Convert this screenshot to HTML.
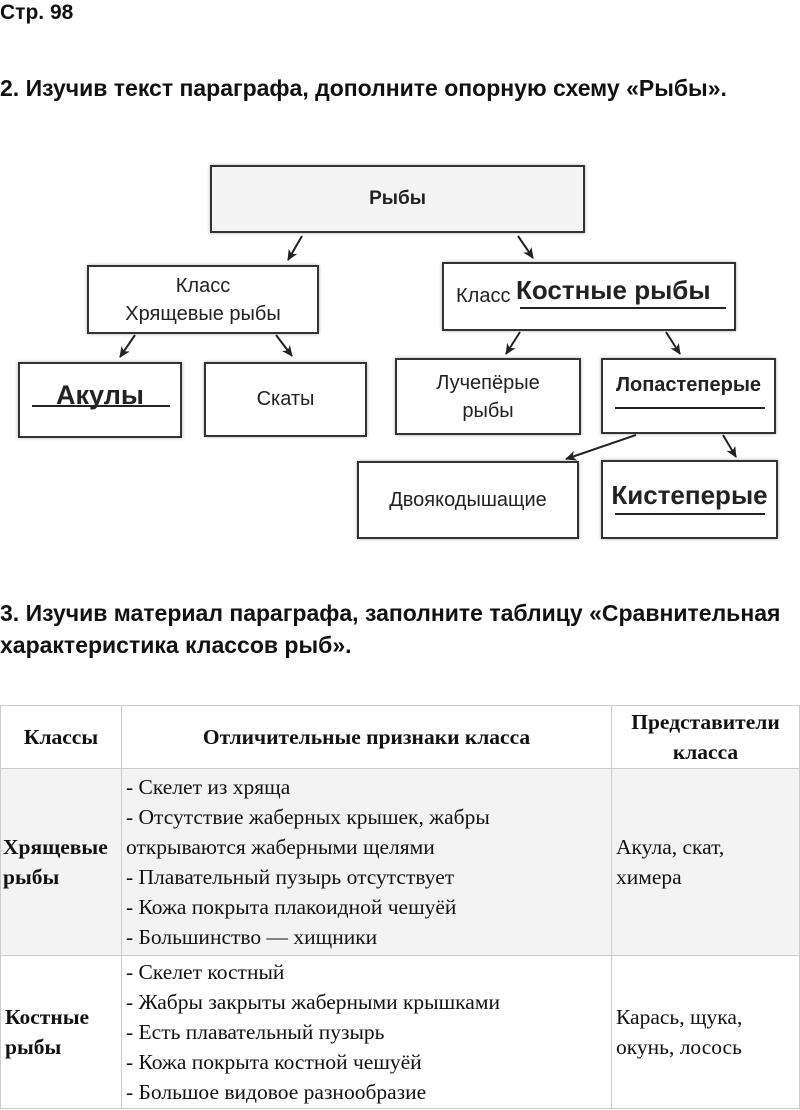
<!DOCTYPE html>
<html><head><meta charset="utf-8"><style>
body{margin:0;width:800px;height:1110px;background:#fff;position:relative;overflow:hidden;font-family:"Liberation Sans",sans-serif}
.t{position:absolute;left:0;font-weight:bold;font-size:23px;color:#111;white-space:nowrap}
.b{position:absolute;border:2px solid #333;background:#fff;box-sizing:border-box;display:flex;align-items:center;justify-content:center;text-align:center;font-size:20px;color:#222;box-shadow:0 0 3px #aaa}
.u{position:absolute;height:2px;background:#222}
table{position:absolute;left:0;top:705px;width:800px;border-collapse:collapse;font-family:"Liberation Serif",serif;font-size:21.5px;color:#111}
td{border:1px solid #ccc;vertical-align:middle;padding:0 4px;line-height:30px;white-space:nowrap}
</style></head><body>
<div class="t" style="top:1px;font-size:21px">Стр. 98</div>
<div class="t" style="top:75px">2. Изучив текст параграфа, дополните опорную схему «Рыбы».</div>
<div class="b" style="left:210px;top:165px;width:375px;height:68px;background:#f4f4f4;font-weight:bold;font-size:19px">Рыбы</div>
<div class="b" style="left:87px;top:265px;width:232px;height:69px;line-height:28px">Класс<br>Хрящевые рыбы</div>
<div class="b" style="left:442px;top:262px;width:294px;height:69px;justify-content:flex-start;padding-left:12px">Класс&nbsp;<span style="font-size:26px;font-weight:bold;margin-top:-12px">Костные рыбы</span></div>
<div class="u" style="left:520px;top:307px;width:206px"></div>
<div class="b" style="left:18px;top:362px;width:164px;height:76px;font-size:27px;font-weight:bold"><span style="margin-top:-10px">Акулы</span></div>
<div class="u" style="left:32px;top:405px;width:138px"></div>
<div class="b" style="left:204px;top:362px;width:163px;height:75px">Скаты</div>
<div class="b" style="left:395px;top:358px;width:186px;height:77px;line-height:28px">Лучепёрые<br>рыбы</div>
<div class="b" style="left:601px;top:358px;width:175px;height:76px;font-size:20px;font-weight:bold;align-items:flex-start;padding-top:14px">Лопастеперые</div>
<div class="u" style="left:615px;top:407px;width:150px"></div>
<div class="b" style="left:357px;top:461px;width:222px;height:78px">Двоякодышащие</div>
<div class="b" style="left:601px;top:460px;width:177px;height:79px;font-size:26px;font-weight:bold"><span style="margin-top:-8px">Кистеперые</span></div>
<div class="u" style="left:615px;top:513px;width:150px"></div>
<svg style="position:absolute;left:0;top:0" width="800" height="560">
<defs><marker id="a" markerWidth="11" markerHeight="10" refX="10" refY="5" orient="auto" markerUnits="userSpaceOnUse"><path d="M0,0 L11,5 L0,10 L3,5 Z" fill="#222"/></marker></defs>
<g stroke="#222" stroke-width="2" marker-end="url(#a)">
<line x1="302" y1="236" x2="288" y2="260"/>
<line x1="518" y1="236" x2="533" y2="258"/>
<line x1="135" y1="335" x2="120" y2="357"/>
<line x1="276" y1="335" x2="292" y2="356"/>
<line x1="520" y1="332" x2="506" y2="354"/>
<line x1="666" y1="332" x2="680" y2="354"/>
<line x1="636" y1="435" x2="566" y2="459"/>
<line x1="723" y1="435" x2="736" y2="457"/>
</g></svg>
<div class="t" style="top:600px">3. Изучив материал параграфа, заполните таблицу «Сравнительная</div>
<div class="t" style="top:632px">характеристика классов рыб».</div>
<table>
<tr style="height:63px;font-weight:bold;text-align:center"><td style="width:112px">Классы</td><td style="width:481px">Отличительные признаки класса</td><td>Представители<br>класса</td></tr>
<tr style="height:187px;background:#f3f3f3"><td style="font-weight:bold;padding:0 2px">Хрящевые<br>рыбы</td><td>- Скелет из хряща<br>- Отсутствие жаберных крышек, жабры<br>открываются жаберными щелями<br>- Плавательный пузырь отсутствует<br>- Кожа покрыта плакоидной чешуёй<br>- Большинство — хищники</td><td>Акула, скат,<br>химера</td></tr>
<tr style="height:153px"><td style="font-weight:bold">Костные<br>рыбы</td><td>- Скелет костный<br>- Жабры закрыты жаберными крышками<br>- Есть плавательный пузырь<br>- Кожа покрыта костной чешуёй<br>- Большое видовое разнообразие</td><td>Карась, щука,<br>окунь, лосось</td></tr>
</table>
</body></html>
